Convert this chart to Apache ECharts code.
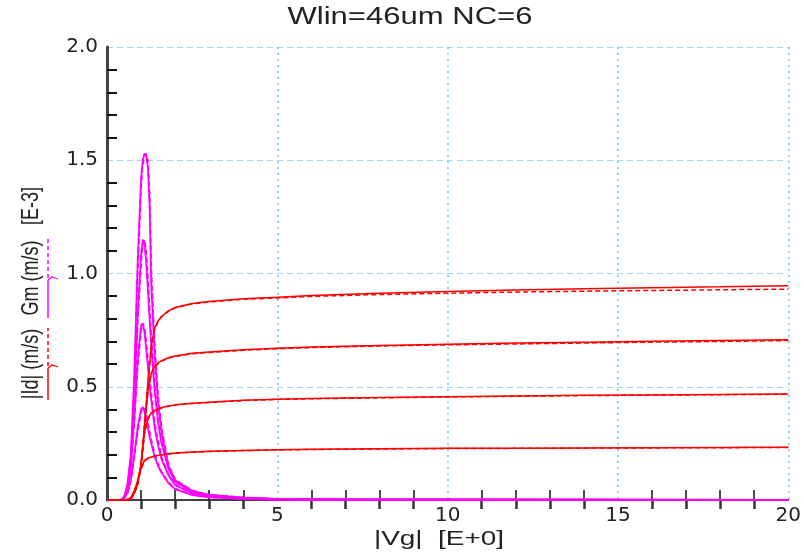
<!DOCTYPE html>
<html>
<head>
<meta charset="utf-8">
<script src="https://cdn.jsdelivr.net/npm/echarts@6/dist/echarts.min.js"></script>
<style>
  html, body { margin: 0; padding: 0; background: #fff; }
  #chart { width: 804px; height: 553px; }
</style>
</head>
<body>
<div id="chart"></div>
<script>
// Gate voltage grid for the drain-current curves
const vgId = [0, 0.5, 0.6, 0.7, 0.8, 0.9, 1.0, 1.1, 1.2, 1.3, 1.4, 1.5, 1.6, 1.8, 2.0, 2.5, 3, 4, 5, 6, 8, 10, 12, 14, 16, 18, 20];

// |Id| (solid = measured, dashed = model), four drain biases
const id1 = [0, 0, 0, 0.005, 0.03, 0.07, 0.15, 0.32, 0.52, 0.68, 0.76, 0.79, 0.81, 0.835, 0.85, 0.868, 0.876, 0.888, 0.895, 0.903, 0.913, 0.921, 0.927, 0.933, 0.937, 0.941, 0.946];
const id1d = [0, 0, 0, 0.004, 0.028, 0.068, 0.148, 0.31, 0.51, 0.67, 0.755, 0.788, 0.808, 0.833, 0.848, 0.866, 0.874, 0.886, 0.892, 0.899, 0.907, 0.913, 0.918, 0.922, 0.925, 0.928, 0.931];
const id2 = [0, 0, 0, 0.006, 0.032, 0.075, 0.155, 0.33, 0.48, 0.56, 0.59, 0.605, 0.615, 0.628, 0.636, 0.648, 0.653, 0.663, 0.67, 0.675, 0.682, 0.688, 0.693, 0.697, 0.701, 0.704, 0.707];
const id2d = [0, 0, 0, 0.005, 0.03, 0.072, 0.15, 0.32, 0.47, 0.555, 0.587, 0.603, 0.613, 0.626, 0.634, 0.646, 0.651, 0.661, 0.668, 0.673, 0.68, 0.685, 0.689, 0.693, 0.697, 0.7, 0.704];
const id3 = [0, 0, 0.002, 0.008, 0.035, 0.08, 0.16, 0.3, 0.36, 0.385, 0.395, 0.402, 0.408, 0.415, 0.42, 0.427, 0.432, 0.44, 0.445, 0.448, 0.452, 0.456, 0.459, 0.462, 0.464, 0.466, 0.468];
const id3d = [0, 0, 0.001, 0.007, 0.033, 0.078, 0.155, 0.29, 0.355, 0.382, 0.393, 0.4, 0.406, 0.414, 0.419, 0.426, 0.431, 0.439, 0.444, 0.447, 0.451, 0.455, 0.458, 0.461, 0.463, 0.465, 0.467];
const id4 = [0, 0, 0.003, 0.01, 0.04, 0.085, 0.14, 0.175, 0.185, 0.19, 0.194, 0.197, 0.2, 0.204, 0.207, 0.212, 0.215, 0.219, 0.222, 0.224, 0.226, 0.228, 0.229, 0.23, 0.231, 0.232, 0.233];
const id4d = [0, 0, 0.002, 0.009, 0.038, 0.082, 0.135, 0.172, 0.183, 0.189, 0.193, 0.196, 0.199, 0.203, 0.206, 0.211, 0.214, 0.218, 0.221, 0.223, 0.225, 0.227, 0.228, 0.229, 0.23, 0.231, 0.232];

// Gate voltage grid for the transconductance curves
const vgGm = [0, 0.4, 0.5, 0.6, 0.7, 0.8, 0.9, 1.0, 1.05, 1.1, 1.15, 1.2, 1.25, 1.3, 1.4, 1.5, 1.6, 1.8, 2.0, 2.5, 3, 4, 5, 7, 10, 15, 20];

// Gm (solid = measured, dashed = model)
const gm1 = [0, 0, 0.01, 0.07, 0.2, 0.55, 1.05, 1.42, 1.5, 1.53, 1.52, 1.47, 1.3, 0.95, 0.64, 0.43, 0.3, 0.15, 0.085, 0.04, 0.022, 0.01, 0.005, 0.003, 0.002, 0.001, 0];
const gm1d = [0, 0, 0.01, 0.06, 0.18, 0.5, 1.0, 1.38, 1.48, 1.52, 1.53, 1.5, 1.36, 1.02, 0.68, 0.46, 0.32, 0.16, 0.09, 0.042, 0.023, 0.011, 0.005, 0.003, 0.002, 0.001, 0];
const gm2 = [0, 0, 0.01, 0.06, 0.18, 0.45, 0.82, 1.08, 1.15, 1.13, 1.05, 0.93, 0.8, 0.68, 0.48, 0.34, 0.25, 0.14, 0.08, 0.037, 0.02, 0.009, 0.004, 0.002, 0.001, 0.001, 0];
const gm2d = [0, 0, 0.008, 0.055, 0.17, 0.42, 0.78, 1.05, 1.13, 1.15, 1.1, 0.98, 0.85, 0.72, 0.51, 0.36, 0.27, 0.15, 0.085, 0.039, 0.021, 0.009, 0.004, 0.002, 0.001, 0.001, 0];
const gm3 = [0, 0, 0.01, 0.05, 0.15, 0.36, 0.62, 0.77, 0.78, 0.74, 0.67, 0.59, 0.51, 0.44, 0.32, 0.24, 0.18, 0.11, 0.065, 0.03, 0.016, 0.007, 0.003, 0.002, 0.001, 0, 0];
const gm3d = [0, 0, 0.008, 0.045, 0.14, 0.34, 0.59, 0.75, 0.78, 0.76, 0.7, 0.62, 0.54, 0.47, 0.34, 0.26, 0.19, 0.115, 0.068, 0.031, 0.017, 0.007, 0.003, 0.002, 0.001, 0, 0];
const gm4 = [0, 0, 0.01, 0.03, 0.09, 0.2, 0.32, 0.4, 0.41, 0.39, 0.36, 0.32, 0.28, 0.25, 0.19, 0.15, 0.12, 0.075, 0.048, 0.022, 0.012, 0.005, 0.002, 0.001, 0.001, 0, 0];
const gm4d = [0, 0, 0.008, 0.028, 0.085, 0.19, 0.3, 0.39, 0.41, 0.4, 0.38, 0.34, 0.3, 0.265, 0.2, 0.16, 0.125, 0.078, 0.05, 0.023, 0.012, 0.005, 0.002, 0.001, 0.001, 0, 0];

const xTicks = [0, 5, 10, 15, 20];
const yTicks = [0.0, 0.5, 1.0, 1.5, 2.0];

const RED = '#ff0000';
const MAG = '#ff00ff';
const FONT = 'Liberation Sans, Arial, sans-serif';
const WIDE = 'DejaVu Sans, sans-serif';
const TEXT = '#222';

function pairs(xs, ys) { return xs.map((x, i) => [x, ys[i]]); }

function curve(xs, ys, color, dashed, width) {
  return {
    type: 'line',
    data: pairs(xs, ys),
    showSymbol: false,
    symbol: 'none',
    silent: true,
    animation: false,
    lineStyle: { color: color, width: width, type: dashed ? [5, 3] : 'solid' },
    z: dashed ? 3 : 4
  };
}

const series = [
  curve(vgGm, gm4d, MAG, true, 1.8), curve(vgGm, gm4, MAG, false, 1.8),
  curve(vgGm, gm3d, MAG, true, 1.8), curve(vgGm, gm3, MAG, false, 1.8),
  curve(vgGm, gm2d, MAG, true, 1.8), curve(vgGm, gm2, MAG, false, 1.8),
  curve(vgGm, gm1d, MAG, true, 1.8), curve(vgGm, gm1, MAG, false, 1.8),
  curve(vgId, id4d, RED, true, 1.5), curve(vgId, id4, RED, false, 1.5),
  curve(vgId, id3d, RED, true, 1.5), curve(vgId, id3, RED, false, 1.5),
  curve(vgId, id2d, RED, true, 1.5), curve(vgId, id2, RED, false, 1.5),
  curve(vgId, id1d, RED, true, 1.5), curve(vgId, id1, RED, false, 1.5)
];

const chart = echarts.init(document.getElementById('chart'), null, { renderer: 'canvas' });

chart.setOption({
  animation: false,
  backgroundColor: '#fff',
  grid: { left: 107, right: 12, top: 47, bottom: 53, containLabel: false },
  xAxis: [
    {
      type: 'value', min: xTicks[0], max: xTicks[xTicks.length - 1], interval: 5,
      axisLine: { show: true, lineStyle: { color: '#000', width: 1.5 } },
      axisTick: { show: false, inside: true },
      minorTick: { show: true, splitNumber: 5, length: 10, lineStyle: { color: '#111', width: 1.5 } },
      axisLabel: { fontFamily: WIDE, fontSize: 20, color: TEXT, margin: 6,
        formatter: v => xTicks.includes(v) ? String(v) : '' },
      splitLine: { show: true, lineStyle: { color: '#6cc6f0', width: 1.5, type: [2, 4] } },
      minorSplitLine: { show: false }
    },
    {
      type: 'value', position: 'top', min: 0, max: 20, interval: 5,
      axisLine: { show: true, lineStyle: { color: '#444', width: 1.5 } },
      axisTick: { show: false, inside: true },
      minorTick: { show: true, splitNumber: 5, length: 9, lineStyle: { color: '#333', width: 2.5 } },
      axisLabel: { show: false },
      splitLine: { show: false }
    }
  ],
  yAxis: [
    {
      type: 'value', min: yTicks[0], max: yTicks[yTicks.length - 1], interval: 0.5,
      axisLine: { show: true, lineStyle: { color: '#000', width: 2 } },
      axisTick: { show: false, inside: true },
      minorTick: { show: true, splitNumber: 5, length: 10, lineStyle: { color: '#111', width: 2 } },
      axisLabel: { fontFamily: WIDE, fontSize: 20, color: TEXT, margin: 9,
        formatter: v => v.toFixed(1) },
      splitLine: { show: true, lineStyle: { color: '#9dd6f5', width: 1.2, type: [6, 4] } }
    },
    {
      type: 'value', position: 'right', min: 0, max: 2,
      axisLine: { show: true, lineStyle: { color: '#444', width: 3 } },
      axisTick: { show: false },
      axisLabel: { show: false },
      splitLine: { show: false }
    }
  ],
  graphic: [
    // title and x-axis caption, drawn wide
    { type: 'text', x: 410, y: 18, scaleX: 1.35,
      style: { text: 'Wlin=46um NC=6', font: '23px ' + FONT, fill: TEXT, align: 'center', verticalAlign: 'middle' } },
    { type: 'text', x: 439, y: 539, scaleX: 1.33,
      style: { text: '|Vg|  [E+0]', font: '21px ' + FONT, fill: TEXT, align: 'center', verticalAlign: 'middle' } },
    // rotated y-axis title, in three pieces with line keys beside the first two
    { type: 'text', x: 32, y: 364, rotation: Math.PI / 2, scaleY: 1.3,
      style: { text: '|Id| (m/s)', font: '18px ' + FONT, fill: TEXT, align: 'center', verticalAlign: 'middle' } },
    { type: 'text', x: 32, y: 278, rotation: Math.PI / 2, scaleY: 1.3,
      style: { text: 'Gm (m/s)', font: '18px ' + FONT, fill: TEXT, align: 'center', verticalAlign: 'middle' } },
    { type: 'text', x: 32, y: 206, rotation: Math.PI / 2, scaleY: 1.3,
      style: { text: '[E-3]', font: '18px ' + FONT, fill: TEXT, align: 'center', verticalAlign: 'middle' } },
    { type: 'line', shape: { x1: 48, y1: 400, x2: 48, y2: 368 }, style: { stroke: RED, lineWidth: 1.5 } },
    { type: 'polyline', shape: { points: [[48, 368], [52, 365], [58, 367]] }, style: { stroke: RED, lineWidth: 1.2, fill: null } },
    { type: 'line', shape: { x1: 48, y1: 366, x2: 48, y2: 328 }, style: { stroke: RED, lineWidth: 1.5, lineDash: [4, 3] } },
    { type: 'line', shape: { x1: 48, y1: 318, x2: 48, y2: 280 }, style: { stroke: MAG, lineWidth: 1.5 } },
    { type: 'polyline', shape: { points: [[48, 280], [52, 277], [58, 279]] }, style: { stroke: MAG, lineWidth: 1.2, fill: null } },
    { type: 'line', shape: { x1: 48, y1: 278, x2: 48, y2: 237 }, style: { stroke: MAG, lineWidth: 1.5, lineDash: [4, 3] } }
  ],
  series: series
});
</script>
</body>
</html>
